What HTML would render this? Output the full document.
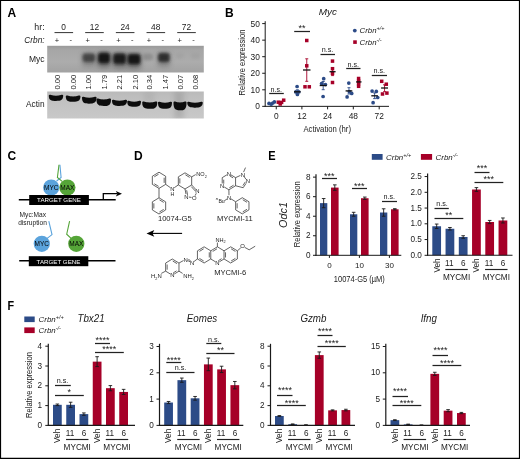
<!DOCTYPE html>
<html><head><meta charset="utf-8"><title>Figure</title>
<style>
html,body{margin:0;padding:0;background:#fff;}
body{width:520px;height:459px;overflow:hidden;font-family:"Liberation Sans",sans-serif;}
svg{display:block;will-change:transform;font-family:"Liberation Sans",sans-serif;}
</style></head><body>
<svg width="520" height="459" viewBox="0 0 520 459">
<rect x="0" y="0" width="520" height="459" fill="#fff"/>
<text transform="translate(7.60,17.40)" text-anchor="start" fill="#000" style="font-size:12px;font-weight:bold;" >A</text>
<text transform="translate(44.60,29.80)" text-anchor="end" fill="#1a1a1a" style="font-size:8.8px;" >hr:</text>
<text transform="translate(44.60,42.70)" text-anchor="end" fill="#1a1a1a" style="font-size:8.3px;font-style:italic;" >Crbn:</text>
<text transform="translate(63.70,29.60) scale(0.93,1)" text-anchor="middle" fill="#1a1a1a" style="font-size:9px;" >0</text>
<line x1="54.50" y1="32.60" x2="73.10" y2="32.60" stroke="#333" stroke-width="1" />
<text transform="translate(57.00,42.60)" text-anchor="middle" fill="#1a1a1a" style="font-size:7.5px;" >+</text>
<text transform="translate(70.80,42.20)" text-anchor="middle" fill="#1a1a1a" style="font-size:7.5px;" >-</text>
<text transform="translate(94.38,29.60) scale(0.93,1)" text-anchor="middle" fill="#1a1a1a" style="font-size:9px;" >12</text>
<line x1="85.18" y1="32.60" x2="103.78" y2="32.60" stroke="#333" stroke-width="1" />
<text transform="translate(87.68,42.60)" text-anchor="middle" fill="#1a1a1a" style="font-size:7.5px;" >+</text>
<text transform="translate(101.48,42.20)" text-anchor="middle" fill="#1a1a1a" style="font-size:7.5px;" >-</text>
<text transform="translate(125.06,29.60) scale(0.93,1)" text-anchor="middle" fill="#1a1a1a" style="font-size:9px;" >24</text>
<line x1="115.86" y1="32.60" x2="134.46" y2="32.60" stroke="#333" stroke-width="1" />
<text transform="translate(118.36,42.60)" text-anchor="middle" fill="#1a1a1a" style="font-size:7.5px;" >+</text>
<text transform="translate(132.16,42.20)" text-anchor="middle" fill="#1a1a1a" style="font-size:7.5px;" >-</text>
<text transform="translate(155.74,29.60) scale(0.93,1)" text-anchor="middle" fill="#1a1a1a" style="font-size:9px;" >48</text>
<line x1="146.54" y1="32.60" x2="165.14" y2="32.60" stroke="#333" stroke-width="1" />
<text transform="translate(149.04,42.60)" text-anchor="middle" fill="#1a1a1a" style="font-size:7.5px;" >+</text>
<text transform="translate(162.84,42.20)" text-anchor="middle" fill="#1a1a1a" style="font-size:7.5px;" >-</text>
<text transform="translate(186.42,29.60) scale(0.93,1)" text-anchor="middle" fill="#1a1a1a" style="font-size:9px;" >72</text>
<line x1="177.22" y1="32.60" x2="195.82" y2="32.60" stroke="#333" stroke-width="1" />
<text transform="translate(179.72,42.60)" text-anchor="middle" fill="#1a1a1a" style="font-size:7.5px;" >+</text>
<text transform="translate(193.52,42.20)" text-anchor="middle" fill="#1a1a1a" style="font-size:7.5px;" >-</text>
<text transform="translate(44.50,62.00)" text-anchor="end" fill="#1a1a1a" style="font-size:8.5px;" >Myc</text>
<text transform="translate(44.50,106.50)" text-anchor="end" fill="#1a1a1a" style="font-size:8.3px;" >Actin</text>
<defs><filter id="b1" x="-50%" y="-50%" width="200%" height="200%"><feGaussianBlur stdDeviation="1.8"/></filter><filter id="b2" x="-50%" y="-50%" width="200%" height="200%"><feGaussianBlur stdDeviation="0.7"/></filter><filter id="b3" x="-50%" y="-50%" width="200%" height="200%"><feGaussianBlur stdDeviation="2.5"/></filter><linearGradient id="gm" x1="0" y1="0" x2="0" y2="1"><stop offset="0" stop-color="#9a9a9a"/><stop offset="0.15" stop-color="#a6a6a6"/><stop offset="0.6" stop-color="#acacac"/><stop offset="1" stop-color="#a2a2a2"/></linearGradient><linearGradient id="ga" x1="0" y1="0" x2="0" y2="1"><stop offset="0" stop-color="#bababa"/><stop offset="0.5" stop-color="#c3c3c3"/><stop offset="1" stop-color="#c8c8c8"/></linearGradient><clipPath id="cm"><rect x="47.2" y="45.8" width="156.6" height="26.7"/></clipPath><clipPath id="ca"><rect x="47.2" y="91.5" width="156.6" height="27"/></clipPath></defs>
<rect x="47.20" y="45.80" width="156.60" height="26.70" fill="url(#gm)" />
<g clip-path="url(#cm)">
<rect x="82.1" y="52.9" width="13.5" height="13.5" rx="3" fill="#444" opacity="0.35" filter="url(#b3)"/>
<rect x="82.6" y="53.4" width="12.5" height="8.5" rx="3" fill="#3c3c3c" opacity="0.9" filter="url(#b1)"/>
<rect x="97.5" y="52.2" width="13.0" height="15.5" rx="3" fill="#444" opacity="0.6" filter="url(#b3)"/>
<rect x="98.0" y="52.8" width="12.0" height="10.5" rx="3" fill="#141414" opacity="1.0" filter="url(#b1)"/>
<rect x="112.6" y="53.0" width="14.0" height="15.5" rx="3" fill="#444" opacity="0.55" filter="url(#b3)"/>
<rect x="113.1" y="53.5" width="13.0" height="10.5" rx="3" fill="#1c1c1c" opacity="1.0" filter="url(#b1)"/>
<rect x="127.0" y="53.6" width="14.0" height="15.5" rx="3" fill="#444" opacity="0.55" filter="url(#b3)"/>
<rect x="127.5" y="54.1" width="13.0" height="10.5" rx="3" fill="#161616" opacity="1.0" filter="url(#b1)"/>
<rect x="142.9" y="53.5" width="10" height="7.0" rx="3" fill="#666" opacity="0.4" filter="url(#b1)"/>
<rect x="157.6" y="52.6" width="12.5" height="14.0" rx="3" fill="#444" opacity="0.4" filter="url(#b3)"/>
<rect x="158.1" y="53.1" width="11.5" height="9.0" rx="3" fill="#2a2a2a" opacity="0.95" filter="url(#b1)"/>
<rect x="175.8" y="53.5" width="8" height="5.0" rx="3" fill="#888" opacity="0.2" filter="url(#b1)"/>
<rect x="191.5" y="53.5" width="8" height="5.0" rx="3" fill="#888" opacity="0.2" filter="url(#b1)"/>
</g>
<text transform="translate(60.40,89.50) rotate(-90)" text-anchor="start" fill="#1a1a1a" style="font-size:7.6px;" >0.00</text>
<text transform="translate(76.10,89.50) rotate(-90)" text-anchor="start" fill="#1a1a1a" style="font-size:7.6px;" >0.00</text>
<text transform="translate(91.40,89.50) rotate(-90)" text-anchor="start" fill="#1a1a1a" style="font-size:7.6px;" >1.00</text>
<text transform="translate(107.10,89.50) rotate(-90)" text-anchor="start" fill="#1a1a1a" style="font-size:7.6px;" >1.79</text>
<text transform="translate(122.20,89.50) rotate(-90)" text-anchor="start" fill="#1a1a1a" style="font-size:7.6px;" >2.21</text>
<text transform="translate(138.10,89.50) rotate(-90)" text-anchor="start" fill="#1a1a1a" style="font-size:7.6px;" >2.10</text>
<text transform="translate(152.20,89.50) rotate(-90)" text-anchor="start" fill="#1a1a1a" style="font-size:7.6px;" >0.34</text>
<text transform="translate(167.50,89.50) rotate(-90)" text-anchor="start" fill="#1a1a1a" style="font-size:7.6px;" >1.47</text>
<text transform="translate(182.60,89.50) rotate(-90)" text-anchor="start" fill="#1a1a1a" style="font-size:7.6px;" >0.07</text>
<text transform="translate(198.30,89.50) rotate(-90)" text-anchor="start" fill="#1a1a1a" style="font-size:7.6px;" >0.08</text>
<rect x="47.20" y="91.50" width="156.60" height="27.00" fill="url(#ga)" />
<g clip-path="url(#ca)">
<rect x="174" y="91" width="10" height="28" fill="#888" opacity="0.35" filter="url(#b3)"/>
<rect x="144" y="91" width="10" height="12" fill="#999" opacity="0.25" filter="url(#b3)"/>
<g filter="url(#b2)" fill="#0a0a0a">
<path d="M48.8,95.6 Q48.8,94.6 50.3,94.8 Q56.0,96.6 61.7,94.8 Q63.2,94.6 63.2,95.6 C63.2,100.4 60.5,101.0 56.0,101.0 C51.5,101.0 48.8,100.4 48.8,95.8Z"/>
<path d="M65.8,96.3 Q65.8,95.3 67.3,95.5 Q73.1,97.3 78.9,95.5 Q80.4,95.3 80.4,96.3 C80.4,101.2 77.6,101.8 73.1,101.8 C68.6,101.8 65.8,101.2 65.8,96.5Z"/>
<path d="M82.0,97.6 Q82.0,96.6 83.5,96.8 Q89.2,98.6 95.0,96.8 Q96.5,96.6 96.5,97.6 C96.5,103.0 93.8,103.7 89.2,103.7 C84.8,103.7 82.0,103.0 82.0,97.8Z"/>
<path d="M96.5,99.4 Q96.5,98.4 98.0,98.6 Q103.8,100.4 109.5,98.6 Q111.0,98.4 111.0,99.4 C111.0,105.3 108.2,106.0 103.8,106.0 C99.2,106.0 96.5,105.3 96.5,99.6Z"/>
<path d="M112.0,100.6 Q112.0,99.6 113.5,99.8 Q119.5,101.6 125.5,99.8 Q127.0,99.6 127.0,100.6 C127.0,105.4 124.0,106.0 119.5,106.0 C115.0,106.0 112.0,105.4 112.0,100.8Z"/>
<path d="M127.3,101.6 Q127.3,100.6 128.8,100.8 Q134.2,102.6 139.5,100.8 Q141.0,100.6 141.0,101.6 C141.0,106.2 138.7,106.8 134.2,106.8 C129.7,106.8 127.3,106.2 127.3,101.8Z"/>
<path d="M142.2,102.4 Q142.2,101.4 143.7,101.6 Q149.8,103.4 155.8,101.6 Q157.3,101.4 157.3,102.4 C157.3,108.1 154.2,108.8 149.8,108.8 C145.2,108.8 142.2,108.1 142.2,102.6Z"/>
<path d="M158.0,102.6 Q158.0,101.6 159.5,101.8 Q165.0,103.6 170.5,101.8 Q172.0,101.6 172.0,102.6 C172.0,108.1 169.5,108.8 165.0,108.8 C160.5,108.8 158.0,108.1 158.0,102.8Z"/>
<path d="M173.5,102.4 Q173.5,101.4 175.0,101.6 Q180.0,103.4 185.0,101.6 Q186.5,101.4 186.5,102.4 C186.5,109.5 184.5,110.3 180.0,110.3 C175.5,110.3 173.5,109.5 173.5,102.6Z"/>
<path d="M187.3,102.6 Q187.3,101.6 188.8,101.8 Q195.0,103.6 201.2,101.8 Q202.7,101.6 202.7,102.6 C202.7,107.1 199.5,107.7 195.0,107.7 C190.5,107.7 187.3,107.1 187.3,102.8Z"/>
</g>
</g>
<text transform="translate(225.00,17.40)" text-anchor="start" fill="#000" style="font-size:12px;font-weight:bold;" >B</text>
<text transform="translate(327.80,14.90) scale(1.06,1)" text-anchor="middle" fill="#1a1a1a" style="font-size:9.4px;font-style:italic;" >Myc</text>
<line x1="265.20" y1="21.20" x2="265.20" y2="106.85" stroke="#1a1a1a" stroke-width="1" />
<line x1="264.70" y1="106.35" x2="389.00" y2="106.35" stroke="#1a1a1a" stroke-width="1" />
<line x1="262.20" y1="106.35" x2="265.20" y2="106.35" stroke="#1a1a1a" stroke-width="1" />
<text transform="translate(259.80,109.25)" text-anchor="end" fill="#1a1a1a" style="font-size:8.4px;" >0</text>
<line x1="262.20" y1="89.80" x2="265.20" y2="89.80" stroke="#1a1a1a" stroke-width="1" />
<text transform="translate(259.80,92.70)" text-anchor="end" fill="#1a1a1a" style="font-size:8.4px;" >10</text>
<line x1="262.20" y1="73.25" x2="265.20" y2="73.25" stroke="#1a1a1a" stroke-width="1" />
<text transform="translate(259.80,76.15)" text-anchor="end" fill="#1a1a1a" style="font-size:8.4px;" >20</text>
<line x1="262.20" y1="56.70" x2="265.20" y2="56.70" stroke="#1a1a1a" stroke-width="1" />
<text transform="translate(259.80,59.60)" text-anchor="end" fill="#1a1a1a" style="font-size:8.4px;" >30</text>
<line x1="262.20" y1="40.15" x2="265.20" y2="40.15" stroke="#1a1a1a" stroke-width="1" />
<text transform="translate(259.80,43.05)" text-anchor="end" fill="#1a1a1a" style="font-size:8.4px;" >40</text>
<line x1="262.20" y1="23.60" x2="265.20" y2="23.60" stroke="#1a1a1a" stroke-width="1" />
<text transform="translate(259.80,26.50)" text-anchor="end" fill="#1a1a1a" style="font-size:8.4px;" >50</text>
<line x1="276.25" y1="106.35" x2="276.25" y2="109.35" stroke="#1a1a1a" stroke-width="1" />
<text transform="translate(276.25,118.90)" text-anchor="middle" fill="#1a1a1a" style="font-size:8.4px;" >0</text>
<line x1="301.90" y1="106.35" x2="301.90" y2="109.35" stroke="#1a1a1a" stroke-width="1" />
<text transform="translate(301.90,118.90)" text-anchor="middle" fill="#1a1a1a" style="font-size:8.4px;" >12</text>
<line x1="327.60" y1="106.35" x2="327.60" y2="109.35" stroke="#1a1a1a" stroke-width="1" />
<text transform="translate(327.60,118.90)" text-anchor="middle" fill="#1a1a1a" style="font-size:8.4px;" >24</text>
<line x1="353.30" y1="106.35" x2="353.30" y2="109.35" stroke="#1a1a1a" stroke-width="1" />
<text transform="translate(353.30,118.90)" text-anchor="middle" fill="#1a1a1a" style="font-size:8.4px;" >48</text>
<line x1="379.20" y1="106.35" x2="379.20" y2="109.35" stroke="#1a1a1a" stroke-width="1" />
<text transform="translate(379.20,118.90)" text-anchor="middle" fill="#1a1a1a" style="font-size:8.4px;" >72</text>
<text transform="translate(244.80,62.50) rotate(-90) scale(0.84,1)" text-anchor="middle" fill="#1a1a1a" style="font-size:9.0px;" >Relative expression</text>
<text transform="translate(327.20,132.00) scale(0.84,1)" text-anchor="middle" fill="#1a1a1a" style="font-size:9.2px;" >Activation (hr)</text>
<circle cx="354.8" cy="30.6" r="1.9" fill="#2c4b87"/>
<text x="359.60" y="33.20" fill="#1a1a1a" style="font-size:7.8px;font-style:italic;">Crbn<tspan dy="-3.1" style="font-size:5.46px">+/+</tspan></text>
<rect x="353.20" y="40.30" width="3.60" height="3.60" fill="#a60028" />
<text x="359.60" y="44.80" fill="#1a1a1a" style="font-size:7.8px;font-style:italic;">Crbn<tspan dy="-3.1" style="font-size:5.46px">-/-</tspan></text>
<circle cx="269.0" cy="103.4" r="1.85" fill="#2c4b87"/>
<circle cx="271.2" cy="104.2" r="1.85" fill="#2c4b87"/>
<circle cx="272.8" cy="103.0" r="1.85" fill="#2c4b87"/>
<circle cx="274.4" cy="101.9" r="1.85" fill="#2c4b87"/>
<rect x="276.55" y="100.45" width="3.50" height="3.50" fill="#a60028" />
<rect x="278.45" y="102.25" width="3.50" height="3.50" fill="#a60028" />
<rect x="279.85" y="100.65" width="3.50" height="3.50" fill="#a60028" />
<rect x="281.95" y="98.45" width="3.50" height="3.50" fill="#a60028" />
<text transform="translate(276.25,91.65)" text-anchor="middle" fill="#1a1a1a" style="font-size:7.2px;" >n.s.</text>
<line x1="269.20" y1="93.50" x2="283.80" y2="93.50" stroke="#222" stroke-width="1.25" />
<circle cx="297.1" cy="86.5" r="1.85" fill="#2c4b87"/>
<circle cx="295.8" cy="91.9" r="1.85" fill="#2c4b87"/>
<circle cx="298.8" cy="91.9" r="1.85" fill="#2c4b87"/>
<circle cx="297.4" cy="94.5" r="1.85" fill="#2c4b87"/>
<line x1="297.35" y1="89.80" x2="297.35" y2="93.80" stroke="#2c4b87" stroke-width="0.9" />
<line x1="295.85" y1="89.80" x2="298.85" y2="89.80" stroke="#2c4b87" stroke-width="0.9" />
<line x1="295.85" y1="93.80" x2="298.85" y2="93.80" stroke="#2c4b87" stroke-width="0.9" />
<line x1="294.00" y1="91.80" x2="300.70" y2="91.80" stroke="#111" stroke-width="1.3" />
<rect x="305.00" y="38.75" width="3.50" height="3.50" fill="#a60028" />
<rect x="305.00" y="64.05" width="3.50" height="3.50" fill="#a60028" />
<rect x="303.25" y="85.05" width="3.50" height="3.50" fill="#a60028" />
<rect x="307.55" y="85.05" width="3.50" height="3.50" fill="#a60028" />
<line x1="306.75" y1="58.80" x2="306.75" y2="81.30" stroke="#a60028" stroke-width="0.9" />
<line x1="305.25" y1="58.80" x2="308.25" y2="58.80" stroke="#a60028" stroke-width="0.9" />
<line x1="305.25" y1="81.30" x2="308.25" y2="81.30" stroke="#a60028" stroke-width="0.9" />
<line x1="303.00" y1="70.00" x2="310.50" y2="70.00" stroke="#111" stroke-width="1.3" />
<text transform="translate(302.00,31.20)" text-anchor="middle" fill="#1a1a1a" style="font-size:9.0px;" >**</text>
<line x1="294.20" y1="31.50" x2="310.00" y2="31.50" stroke="#222" stroke-width="1.25" />
<circle cx="323.7" cy="78.7" r="1.85" fill="#2c4b87"/>
<circle cx="321.6" cy="83.6" r="1.85" fill="#2c4b87"/>
<circle cx="325.4" cy="84.6" r="1.85" fill="#2c4b87"/>
<circle cx="323.1" cy="96.5" r="1.85" fill="#2c4b87"/>
<line x1="323.20" y1="81.50" x2="323.20" y2="89.70" stroke="#2c4b87" stroke-width="0.9" />
<line x1="321.70" y1="81.50" x2="324.70" y2="81.50" stroke="#2c4b87" stroke-width="0.9" />
<line x1="321.70" y1="89.70" x2="324.70" y2="89.70" stroke="#2c4b87" stroke-width="0.9" />
<line x1="319.70" y1="85.50" x2="326.70" y2="85.50" stroke="#111" stroke-width="1.3" />
<rect x="330.75" y="59.35" width="3.50" height="3.50" fill="#a60028" />
<rect x="330.75" y="66.95" width="3.50" height="3.50" fill="#a60028" />
<rect x="330.75" y="71.65" width="3.50" height="3.50" fill="#a60028" />
<rect x="330.75" y="80.75" width="3.50" height="3.50" fill="#a60028" />
<line x1="332.55" y1="67.80" x2="332.55" y2="75.60" stroke="#a60028" stroke-width="0.9" />
<line x1="331.05" y1="67.80" x2="334.05" y2="67.80" stroke="#a60028" stroke-width="0.9" />
<line x1="331.05" y1="75.60" x2="334.05" y2="75.60" stroke="#a60028" stroke-width="0.9" />
<line x1="329.50" y1="71.70" x2="335.60" y2="71.70" stroke="#111" stroke-width="1.3" />
<text transform="translate(327.50,51.90)" text-anchor="middle" fill="#1a1a1a" style="font-size:7.2px;" >n.s.</text>
<line x1="320.50" y1="54.50" x2="335.00" y2="54.50" stroke="#222" stroke-width="1.25" />
<circle cx="348.8" cy="83.1" r="1.85" fill="#2c4b87"/>
<circle cx="349.3" cy="91.5" r="1.85" fill="#2c4b87"/>
<circle cx="351.7" cy="93.4" r="1.85" fill="#2c4b87"/>
<circle cx="347.1" cy="96.9" r="1.85" fill="#2c4b87"/>
<line x1="348.95" y1="87.70" x2="348.95" y2="94.00" stroke="#2c4b87" stroke-width="0.9" />
<line x1="347.45" y1="87.70" x2="350.45" y2="87.70" stroke="#2c4b87" stroke-width="0.9" />
<line x1="347.45" y1="94.00" x2="350.45" y2="94.00" stroke="#2c4b87" stroke-width="0.9" />
<line x1="345.60" y1="90.90" x2="352.30" y2="90.90" stroke="#111" stroke-width="1.3" />
<rect x="356.85" y="76.75" width="3.50" height="3.50" fill="#a60028" />
<rect x="356.85" y="79.55" width="3.50" height="3.50" fill="#a60028" />
<rect x="356.85" y="82.05" width="3.50" height="3.50" fill="#a60028" />
<rect x="356.85" y="84.55" width="3.50" height="3.50" fill="#a60028" />
<line x1="358.80" y1="80.20" x2="358.80" y2="83.60" stroke="#a60028" stroke-width="0.9" />
<line x1="357.30" y1="80.20" x2="360.30" y2="80.20" stroke="#a60028" stroke-width="0.9" />
<line x1="357.30" y1="83.60" x2="360.30" y2="83.60" stroke="#a60028" stroke-width="0.9" />
<line x1="356.10" y1="81.90" x2="361.50" y2="81.90" stroke="#111" stroke-width="1.3" />
<text transform="translate(353.25,66.65)" text-anchor="middle" fill="#1a1a1a" style="font-size:7.2px;" >n.s.</text>
<line x1="346.20" y1="68.50" x2="360.50" y2="68.50" stroke="#222" stroke-width="1.25" />
<circle cx="372.1" cy="91.1" r="1.85" fill="#2c4b87"/>
<circle cx="376.3" cy="91.4" r="1.85" fill="#2c4b87"/>
<circle cx="377.7" cy="97.5" r="1.85" fill="#2c4b87"/>
<circle cx="373.1" cy="102.7" r="1.85" fill="#2c4b87"/>
<line x1="374.60" y1="92.90" x2="374.60" y2="98.60" stroke="#2c4b87" stroke-width="0.9" />
<line x1="373.10" y1="92.90" x2="376.10" y2="92.90" stroke="#2c4b87" stroke-width="0.9" />
<line x1="373.10" y1="98.60" x2="376.10" y2="98.60" stroke="#2c4b87" stroke-width="0.9" />
<line x1="371.30" y1="95.80" x2="377.90" y2="95.80" stroke="#111" stroke-width="1.3" />
<rect x="379.95" y="79.55" width="3.50" height="3.50" fill="#a60028" />
<rect x="384.55" y="82.45" width="3.50" height="3.50" fill="#a60028" />
<rect x="385.15" y="91.35" width="3.50" height="3.50" fill="#a60028" />
<rect x="380.75" y="92.25" width="3.50" height="3.50" fill="#a60028" />
<line x1="384.55" y1="84.80" x2="384.55" y2="91.70" stroke="#a60028" stroke-width="0.9" />
<line x1="383.05" y1="84.80" x2="386.05" y2="84.80" stroke="#a60028" stroke-width="0.9" />
<line x1="383.05" y1="91.70" x2="386.05" y2="91.70" stroke="#a60028" stroke-width="0.9" />
<line x1="381.10" y1="88.00" x2="388.00" y2="88.00" stroke="#111" stroke-width="1.3" />
<text transform="translate(379.25,72.75)" text-anchor="middle" fill="#1a1a1a" style="font-size:7.2px;" >n.s.</text>
<line x1="371.80" y1="75.50" x2="387.00" y2="75.50" stroke="#222" stroke-width="1.25" />
<text transform="translate(7.50,159.90)" text-anchor="start" fill="#000" style="font-size:12px;font-weight:bold;" >C</text>
<line x1="18.80" y1="199.80" x2="115.70" y2="199.80" stroke="#000" stroke-width="1.5" />
<polyline points="103.3,200 103.3,193.7 117.5,193.7" fill="none" stroke="#000" stroke-width="1.3"/>
<path d="M122,193.7 L115.8,191.0 L117.4,193.7 L115.8,196.4Z" fill="#000"/>
<circle cx="51.2" cy="187.6" r="8.1" fill="#5ba3dc"/>
<circle cx="67.4" cy="187.6" r="8.1" fill="#55a538"/>
<rect x="29.20" y="195.00" width="59.70" height="10.00" fill="#000" />
<polyline points="59.9,164.8 61.1,177.5 56.6,181" fill="none" stroke="#5ba3dc" stroke-width="1.1"/>
<polyline points="59,164.8 57.4,177.5 62.2,181.4" fill="none" stroke="#55a538" stroke-width="1.1"/>
<text transform="translate(51.20,189.90)" text-anchor="middle" fill="#000" style="font-size:6.5px;" >MYC</text>
<text transform="translate(67.40,189.90)" text-anchor="middle" fill="#000" style="font-size:6.5px;" >MAX</text>
<text transform="translate(59.00,202.30)" text-anchor="middle" fill="#fff" style="font-size:6.2px;" >TARGET GENE</text>
<text transform="translate(32.80,217.00)" text-anchor="middle" fill="#1a1a1a" style="font-size:6.6px;" >Myc:Max</text>
<text transform="translate(32.50,224.60)" text-anchor="middle" fill="#1a1a1a" style="font-size:6.6px;" >disruption</text>
<polyline points="48.8,221.2 52,234.6 46.8,238.6" fill="none" stroke="#5ba3dc" stroke-width="1.1"/>
<polyline points="69.6,221.2 66.7,234.2 71.9,239.2" fill="none" stroke="#55a538" stroke-width="1.1"/>
<circle cx="41.8" cy="243.8" r="8.1" fill="#5ba3dc"/>
<circle cx="76.3" cy="243.8" r="8.1" fill="#55a538"/>
<text transform="translate(41.80,246.20)" text-anchor="middle" fill="#000" style="font-size:6.5px;" >MYC</text>
<text transform="translate(76.40,246.20)" text-anchor="middle" fill="#000" style="font-size:6.5px;" >MAX</text>
<line x1="19.20" y1="260.70" x2="115.50" y2="260.70" stroke="#000" stroke-width="1.5" />
<rect x="28.80" y="256.20" width="59.50" height="10.00" fill="#000" />
<text transform="translate(58.50,263.80)" text-anchor="middle" fill="#fff" style="font-size:6.2px;" >TARGET GENE</text>
<text transform="translate(134.00,159.90)" text-anchor="start" fill="#000" style="font-size:12px;font-weight:bold;" >D</text>
<path d="M159.00,172.20 L165.67,176.25 L165.67,184.35 L159.00,188.40 L152.33,184.35 L152.33,176.25Z" fill="none" stroke="#222" stroke-width="0.7" stroke-linejoin="round"/>
<line x1="164.17" y1="177.71" x2="164.17" y2="182.89" stroke="#222" stroke-width="0.7" />
<line x1="158.58" y1="186.39" x2="154.31" y2="183.79" stroke="#222" stroke-width="0.7" />
<line x1="154.31" y1="176.81" x2="158.58" y2="174.21" stroke="#222" stroke-width="0.7" />
<path d="M159.00,197.80 L165.67,201.85 L165.67,209.95 L159.00,214.00 L152.33,209.95 L152.33,201.85Z" fill="none" stroke="#222" stroke-width="0.7" stroke-linejoin="round"/>
<line x1="159.42" y1="199.81" x2="163.69" y2="202.41" stroke="#222" stroke-width="0.7" />
<line x1="163.69" y1="209.39" x2="159.42" y2="211.99" stroke="#222" stroke-width="0.7" />
<line x1="153.83" y1="208.49" x2="153.83" y2="203.31" stroke="#222" stroke-width="0.7" />
<line x1="159.00" y1="188.40" x2="159.00" y2="197.80" stroke="#222" stroke-width="0.7" />
<line x1="165.67" y1="184.35" x2="170.34" y2="187.62" stroke="#222" stroke-width="0.7" />
<text transform="translate(172.30,191.00)" text-anchor="middle" fill="#222" style="font-size:5.9px;" >N</text>
<text transform="translate(172.30,195.70)" text-anchor="middle" fill="#222" style="font-size:5.2px;" >H</text>
<line x1="174.29" y1="187.66" x2="178.33" y2="184.95" stroke="#222" stroke-width="0.7" />
<path d="M185.00,172.80 L191.67,176.85 L191.67,184.95 L185.00,189.00 L178.33,184.95 L178.33,176.85Z" fill="none" stroke="#222" stroke-width="0.7" stroke-linejoin="round"/>
<line x1="179.83" y1="183.49" x2="179.83" y2="178.31" stroke="#222" stroke-width="0.7" />
<line x1="185.42" y1="174.81" x2="189.69" y2="177.41" stroke="#222" stroke-width="0.7" />
<line x1="191.67" y1="176.85" x2="195.68" y2="174.59" stroke="#222" stroke-width="0.7" />
<text x="196.3" y="176.2" fill="#222" style="font-size:5.6px">NO<tspan dy="1.6" style="font-size:3.8px">2</tspan></text>
<line x1="191.67" y1="184.95" x2="195.75" y2="189.40" stroke="#222" stroke-width="0.7" />
<line x1="191.31" y1="186.63" x2="195.59" y2="191.31" stroke="#222" stroke-width="0.7" />
<line x1="196.27" y1="193.27" x2="195.13" y2="195.63" stroke="#222" stroke-width="0.7" />
<line x1="191.53" y1="197.43" x2="188.88" y2="197.04" stroke="#222" stroke-width="0.7" />
<line x1="186.00" y1="194.15" x2="185.00" y2="189.00" stroke="#222" stroke-width="0.7" />
<line x1="187.57" y1="194.89" x2="186.67" y2="190.27" stroke="#222" stroke-width="0.7" />
<text transform="translate(197.40,193.10)" text-anchor="middle" fill="#222" style="font-size:5.9px;" >N</text>
<text transform="translate(194.20,199.90)" text-anchor="middle" fill="#222" style="font-size:5.9px;" >O</text>
<text transform="translate(186.30,198.80)" text-anchor="middle" fill="#222" style="font-size:5.9px;" >N</text>
<text transform="translate(174.80,221.30)" text-anchor="middle" fill="#1a1a1a" style="font-size:7.6px;" >10074-G5</text>
<line x1="230.87" y1="174.80" x2="235.57" y2="177.65" stroke="#222" stroke-width="0.7" />
<line x1="235.57" y1="177.65" x2="235.57" y2="185.75" stroke="#222" stroke-width="0.7" />
<line x1="235.57" y1="185.75" x2="228.90" y2="189.80" stroke="#222" stroke-width="0.7" />
<line x1="228.90" y1="189.80" x2="224.20" y2="186.94" stroke="#222" stroke-width="0.7" />
<line x1="222.23" y1="183.45" x2="222.23" y2="177.65" stroke="#222" stroke-width="0.7" />
<line x1="222.23" y1="177.65" x2="226.93" y2="174.80" stroke="#222" stroke-width="0.7" />
<line x1="229.79" y1="175.90" x2="233.12" y2="177.92" stroke="#222" stroke-width="0.7" />
<line x1="233.59" y1="185.19" x2="229.32" y2="187.79" stroke="#222" stroke-width="0.7" />
<line x1="223.73" y1="183.72" x2="223.73" y2="179.68" stroke="#222" stroke-width="0.7" />
<text transform="translate(228.90,175.90)" text-anchor="middle" fill="#222" style="font-size:5.9px;" >N</text>
<text transform="translate(222.00,187.70)" text-anchor="middle" fill="#222" style="font-size:5.9px;" >N</text>
<line x1="235.57" y1="177.65" x2="240.42" y2="175.41" stroke="#222" stroke-width="0.7" />
<line x1="243.97" y1="176.37" x2="246.03" y2="179.33" stroke="#222" stroke-width="0.7" />
<line x1="246.08" y1="183.31" x2="243.20" y2="187.70" stroke="#222" stroke-width="0.7" />
<line x1="243.20" y1="187.70" x2="235.57" y2="185.75" stroke="#222" stroke-width="0.7" />
<line x1="245.39" y1="181.81" x2="242.87" y2="185.65" stroke="#222" stroke-width="0.7" />
<text transform="translate(242.80,176.50)" text-anchor="middle" fill="#222" style="font-size:5.9px;" >N</text>
<text transform="translate(247.80,183.30)" text-anchor="middle" fill="#222" style="font-size:5.9px;" >N</text>
<line x1="243.58" y1="172.10" x2="245.50" y2="167.60" stroke="#222" stroke-width="0.7" />
<line x1="228.90" y1="189.80" x2="228.97" y2="195.20" stroke="#222" stroke-width="0.7" />
<text transform="translate(229.00,199.70)" text-anchor="middle" fill="#222" style="font-size:5.9px;" >N</text>
<line x1="227.11" y1="198.90" x2="224.50" y2="200.70" stroke="#222" stroke-width="0.7" />
<text x="218.4" y="203.4" fill="#222" style="font-size:5.2px">Bu</text>
<text x="215.8" y="200.2" fill="#222" style="font-size:4.2px;font-style:italic">n</text>
<path d="M242.30,197.70 L248.97,201.75 L248.97,209.85 L242.30,213.90 L235.63,209.85 L235.63,201.75Z" fill="none" stroke="#222" stroke-width="0.7" stroke-linejoin="round"/>
<line x1="242.72" y1="199.71" x2="246.99" y2="202.31" stroke="#222" stroke-width="0.7" />
<line x1="246.99" y1="209.29" x2="242.72" y2="211.89" stroke="#222" stroke-width="0.7" />
<line x1="237.13" y1="208.39" x2="237.13" y2="203.21" stroke="#222" stroke-width="0.7" />
<line x1="230.95" y1="198.82" x2="235.63" y2="201.75" stroke="#222" stroke-width="0.7" />
<text transform="translate(234.80,221.30)" text-anchor="middle" fill="#1a1a1a" style="font-size:7.6px;" >MYCMI-11</text>
<line x1="182.10" y1="233.40" x2="152.00" y2="233.40" stroke="#000" stroke-width="1.1" />
<path d="M146.5,233.4 L154.3,230.1 L152.5,233.4 L154.3,236.7Z" fill="#000"/>
<path d="M204.10,246.80 L210.77,250.85 L210.77,258.95 L204.10,263.00 L197.43,258.95 L197.43,250.85Z" fill="none" stroke="#222" stroke-width="0.7" stroke-linejoin="round"/>
<line x1="209.27" y1="252.31" x2="209.27" y2="257.49" stroke="#222" stroke-width="0.7" />
<line x1="203.68" y1="260.99" x2="199.41" y2="258.39" stroke="#222" stroke-width="0.7" />
<line x1="199.41" y1="251.41" x2="203.68" y2="248.81" stroke="#222" stroke-width="0.7" />
<line x1="210.73" y1="250.85" x2="217.40" y2="246.80" stroke="#222" stroke-width="0.7" />
<line x1="217.40" y1="246.80" x2="224.07" y2="250.85" stroke="#222" stroke-width="0.7" />
<line x1="224.07" y1="258.95" x2="219.37" y2="261.80" stroke="#222" stroke-width="0.7" />
<line x1="215.43" y1="261.80" x2="210.73" y2="258.95" stroke="#222" stroke-width="0.7" />
<line x1="212.71" y1="251.41" x2="216.98" y2="248.81" stroke="#222" stroke-width="0.7" />
<line x1="221.62" y1="258.68" x2="218.29" y2="260.70" stroke="#222" stroke-width="0.7" />
<path d="M230.70,246.80 L237.37,250.85 L237.37,258.95 L230.70,263.00 L224.03,258.95 L224.03,250.85Z" fill="none" stroke="#222" stroke-width="0.7" stroke-linejoin="round"/>
<line x1="231.12" y1="248.81" x2="235.39" y2="251.41" stroke="#222" stroke-width="0.7" />
<line x1="235.39" y1="258.39" x2="231.12" y2="260.99" stroke="#222" stroke-width="0.7" />
<line x1="225.53" y1="257.49" x2="225.53" y2="252.31" stroke="#222" stroke-width="0.7" />
<text transform="translate(217.40,265.20)" text-anchor="middle" fill="#222" style="font-size:5.9px;" >N</text>
<line x1="217.40" y1="246.80" x2="217.40" y2="242.60" stroke="#222" stroke-width="0.7" />
<text x="215.40" y="241.7" fill="#222" style="font-size:5.6px">NH<tspan dy="1.4" style="font-size:3.8px">2</tspan></text>
<line x1="237.37" y1="250.85" x2="240.81" y2="247.79" stroke="#222" stroke-width="0.7" />
<text transform="translate(242.60,248.20)" text-anchor="middle" fill="#222" style="font-size:5.9px;" >O</text>
<line x1="244.71" y1="247.35" x2="249.20" y2="249.80" stroke="#222" stroke-width="0.7" />
<line x1="249.20" y1="249.80" x2="255.20" y2="246.20" stroke="#222" stroke-width="0.7" />
<line x1="197.43" y1="258.95" x2="194.04" y2="261.51" stroke="#222" stroke-width="0.7" />
<line x1="190.16" y1="261.84" x2="187.54" y2="260.46" stroke="#222" stroke-width="0.7" />
<line x1="190.50" y1="260.54" x2="188.41" y2="259.45" stroke="#222" stroke-width="0.7" />
<text transform="translate(192.20,265.00)" text-anchor="middle" fill="#222" style="font-size:5.9px;" >N</text>
<text transform="translate(185.50,261.50)" text-anchor="middle" fill="#222" style="font-size:5.9px;" >N</text>
<line x1="183.49" y1="260.52" x2="178.97" y2="263.05" stroke="#222" stroke-width="0.7" />
<line x1="172.30" y1="259.00" x2="178.97" y2="263.05" stroke="#222" stroke-width="0.7" />
<line x1="178.97" y1="263.05" x2="178.97" y2="271.15" stroke="#222" stroke-width="0.7" />
<line x1="178.97" y1="271.15" x2="174.27" y2="274.00" stroke="#222" stroke-width="0.7" />
<line x1="170.33" y1="274.00" x2="165.63" y2="271.15" stroke="#222" stroke-width="0.7" />
<line x1="165.63" y1="271.15" x2="165.63" y2="263.05" stroke="#222" stroke-width="0.7" />
<line x1="165.63" y1="263.05" x2="172.30" y2="259.00" stroke="#222" stroke-width="0.7" />
<line x1="172.72" y1="261.01" x2="176.99" y2="263.61" stroke="#222" stroke-width="0.7" />
<line x1="176.52" y1="270.88" x2="173.19" y2="272.90" stroke="#222" stroke-width="0.7" />
<line x1="167.13" y1="269.69" x2="167.13" y2="264.51" stroke="#222" stroke-width="0.7" />
<text transform="translate(172.30,277.30)" text-anchor="middle" fill="#222" style="font-size:5.9px;" >N</text>
<line x1="165.63" y1="271.15" x2="161.30" y2="273.40" stroke="#222" stroke-width="0.7" />
<text x="151.0" y="278.3" fill="#222" style="font-size:5.9px">H<tspan dy="1.4" style="font-size:3.8px">2</tspan><tspan dy="-1.4">N</tspan></text>
<line x1="178.97" y1="271.15" x2="182.60" y2="273.40" stroke="#222" stroke-width="0.7" />
<text x="183.3" y="278.3" fill="#222" style="font-size:5.9px">NH<tspan dy="1.4" style="font-size:3.8px">2</tspan></text>
<text transform="translate(230.20,274.90)" text-anchor="middle" fill="#1a1a1a" style="font-size:7.6px;" >MYCMI-6</text>
<text transform="translate(268.20,159.90) scale(0.92,1)" text-anchor="start" fill="#000" style="font-size:12px;font-weight:bold;" >E</text>
<rect x="371.80" y="154.00" width="10.80" height="5.80" fill="#2c4b87" />
<text x="386.10" y="159.60" fill="#1a1a1a" style="font-size:7.9px;font-style:italic;">Crbn<tspan dy="-3.1" style="font-size:5.53px">+/+</tspan></text>
<rect x="420.90" y="154.00" width="11.20" height="5.80" fill="#a60028" />
<text x="435.60" y="159.60" fill="#1a1a1a" style="font-size:7.9px;font-style:italic;">Crbn<tspan dy="-3.1" style="font-size:5.53px">-/-</tspan></text>
<rect x="320.00" y="203.13" width="7.30" height="52.17" fill="#2c4b87" />
<line x1="323.65" y1="198.54" x2="323.65" y2="207.72" stroke="#1a1a1a" stroke-width="0.9" />
<line x1="321.85" y1="198.54" x2="325.45" y2="198.54" stroke="#1a1a1a" stroke-width="0.9" />
<line x1="321.85" y1="207.72" x2="325.45" y2="207.72" stroke="#1a1a1a" stroke-width="0.9" />
<rect x="331.00" y="187.59" width="7.60" height="67.71" fill="#a60028" />
<line x1="334.80" y1="184.86" x2="334.80" y2="190.33" stroke="#1a1a1a" stroke-width="0.9" />
<line x1="333.00" y1="184.86" x2="336.60" y2="184.86" stroke="#1a1a1a" stroke-width="0.9" />
<line x1="333.00" y1="190.33" x2="336.60" y2="190.33" stroke="#1a1a1a" stroke-width="0.9" />
<line x1="329.40" y1="255.30" x2="329.40" y2="257.90" stroke="#1a1a1a" stroke-width="1" />
<text transform="translate(329.40,268.40)" text-anchor="middle" fill="#1a1a1a" style="font-size:8px;" >0</text>
<rect x="350.00" y="214.27" width="7.30" height="41.03" fill="#2c4b87" />
<line x1="353.65" y1="212.31" x2="353.65" y2="216.22" stroke="#1a1a1a" stroke-width="0.9" />
<line x1="351.85" y1="212.31" x2="355.45" y2="212.31" stroke="#1a1a1a" stroke-width="0.9" />
<line x1="351.85" y1="216.22" x2="355.45" y2="216.22" stroke="#1a1a1a" stroke-width="0.9" />
<rect x="361.00" y="198.24" width="7.60" height="57.06" fill="#a60028" />
<line x1="364.80" y1="197.07" x2="364.80" y2="199.42" stroke="#1a1a1a" stroke-width="0.9" />
<line x1="363.00" y1="197.07" x2="366.60" y2="197.07" stroke="#1a1a1a" stroke-width="0.9" />
<line x1="363.00" y1="199.42" x2="366.60" y2="199.42" stroke="#1a1a1a" stroke-width="0.9" />
<line x1="359.40" y1="255.30" x2="359.40" y2="257.90" stroke="#1a1a1a" stroke-width="1" />
<text transform="translate(359.40,268.40)" text-anchor="middle" fill="#1a1a1a" style="font-size:8px;" >10</text>
<rect x="380.00" y="212.51" width="7.30" height="42.79" fill="#2c4b87" />
<line x1="383.65" y1="208.79" x2="383.65" y2="216.22" stroke="#1a1a1a" stroke-width="0.9" />
<line x1="381.85" y1="208.79" x2="385.45" y2="208.79" stroke="#1a1a1a" stroke-width="0.9" />
<line x1="381.85" y1="216.22" x2="385.45" y2="216.22" stroke="#1a1a1a" stroke-width="0.9" />
<rect x="391.00" y="209.28" width="7.60" height="46.02" fill="#a60028" />
<line x1="394.80" y1="208.70" x2="394.80" y2="209.87" stroke="#1a1a1a" stroke-width="0.9" />
<line x1="393.00" y1="208.70" x2="396.60" y2="208.70" stroke="#1a1a1a" stroke-width="0.9" />
<line x1="393.00" y1="209.87" x2="396.60" y2="209.87" stroke="#1a1a1a" stroke-width="0.9" />
<line x1="389.40" y1="255.30" x2="389.40" y2="257.90" stroke="#1a1a1a" stroke-width="1" />
<text transform="translate(389.40,268.40)" text-anchor="middle" fill="#1a1a1a" style="font-size:8px;" >30</text>
<line x1="316.00" y1="174.30" x2="316.00" y2="255.80" stroke="#1a1a1a" stroke-width="1.2" />
<line x1="315.50" y1="255.30" x2="401.30" y2="255.30" stroke="#1a1a1a" stroke-width="1" />
<line x1="313.00" y1="255.30" x2="316.00" y2="255.30" stroke="#1a1a1a" stroke-width="1" />
<text transform="translate(310.60,257.80)" text-anchor="end" fill="#1a1a1a" style="font-size:8.2px;" >0</text>
<line x1="313.00" y1="235.76" x2="316.00" y2="235.76" stroke="#1a1a1a" stroke-width="1" />
<text transform="translate(310.60,238.26)" text-anchor="end" fill="#1a1a1a" style="font-size:8.2px;" >2</text>
<line x1="313.00" y1="216.22" x2="316.00" y2="216.22" stroke="#1a1a1a" stroke-width="1" />
<text transform="translate(310.60,218.72)" text-anchor="end" fill="#1a1a1a" style="font-size:8.2px;" >4</text>
<line x1="313.00" y1="196.68" x2="316.00" y2="196.68" stroke="#1a1a1a" stroke-width="1" />
<text transform="translate(310.60,199.18)" text-anchor="end" fill="#1a1a1a" style="font-size:8.2px;" >6</text>
<line x1="313.00" y1="177.14" x2="316.00" y2="177.14" stroke="#1a1a1a" stroke-width="1" />
<text transform="translate(310.60,179.64)" text-anchor="end" fill="#1a1a1a" style="font-size:8.2px;" >8</text>
<text transform="translate(299.60,214.30) rotate(-90) scale(0.84,1)" text-anchor="middle" fill="#1a1a1a" style="font-size:9.0px;" >Relative expression</text>
<text transform="translate(286.80,215.00) rotate(-90)" text-anchor="middle" fill="#1a1a1a" style="font-size:10.8px;font-style:italic;" >Odc1</text>
<text transform="translate(359.30,281.60) scale(0.815,1)" text-anchor="middle" fill="#1a1a1a" style="font-size:9.2px;" >10074-G5 (µM)</text>
<text transform="translate(329.30,178.60)" text-anchor="middle" fill="#1a1a1a" style="font-size:9.0px;" >***</text>
<line x1="322.00" y1="178.50" x2="337.00" y2="178.50" stroke="#222" stroke-width="1.25" />
<text transform="translate(359.30,188.70)" text-anchor="middle" fill="#1a1a1a" style="font-size:9.0px;" >***</text>
<line x1="352.00" y1="188.50" x2="367.00" y2="188.50" stroke="#222" stroke-width="1.25" />
<text transform="translate(389.30,199.45)" text-anchor="middle" fill="#1a1a1a" style="font-size:7.2px;" >n.s.</text>
<line x1="382.00" y1="201.50" x2="397.00" y2="201.50" stroke="#222" stroke-width="1.25" />
<rect x="432.30" y="226.26" width="8.75" height="29.04" fill="#2c4b87" />
<line x1="436.68" y1="224.05" x2="436.68" y2="228.46" stroke="#1a1a1a" stroke-width="0.9" />
<line x1="434.88" y1="224.05" x2="438.48" y2="224.05" stroke="#1a1a1a" stroke-width="0.9" />
<line x1="434.88" y1="228.46" x2="438.48" y2="228.46" stroke="#1a1a1a" stroke-width="0.9" />
<rect x="445.55" y="228.75" width="8.75" height="26.55" fill="#2c4b87" />
<line x1="449.93" y1="227.49" x2="449.93" y2="230.01" stroke="#1a1a1a" stroke-width="0.9" />
<line x1="448.12" y1="227.49" x2="451.73" y2="227.49" stroke="#1a1a1a" stroke-width="0.9" />
<line x1="448.12" y1="230.01" x2="451.73" y2="230.01" stroke="#1a1a1a" stroke-width="0.9" />
<rect x="458.80" y="237.00" width="8.75" height="18.30" fill="#2c4b87" />
<line x1="463.18" y1="235.74" x2="463.18" y2="238.26" stroke="#1a1a1a" stroke-width="0.9" />
<line x1="461.38" y1="235.74" x2="464.98" y2="235.74" stroke="#1a1a1a" stroke-width="0.9" />
<line x1="461.38" y1="238.26" x2="464.98" y2="238.26" stroke="#1a1a1a" stroke-width="0.9" />
<rect x="472.05" y="189.50" width="8.75" height="65.80" fill="#a60028" />
<line x1="476.43" y1="187.61" x2="476.43" y2="191.39" stroke="#1a1a1a" stroke-width="0.9" />
<line x1="474.62" y1="187.61" x2="478.23" y2="187.61" stroke="#1a1a1a" stroke-width="0.9" />
<line x1="474.62" y1="191.39" x2="478.23" y2="191.39" stroke="#1a1a1a" stroke-width="0.9" />
<rect x="485.30" y="222.00" width="8.75" height="33.30" fill="#a60028" />
<line x1="489.68" y1="220.43" x2="489.68" y2="223.58" stroke="#1a1a1a" stroke-width="0.9" />
<line x1="487.88" y1="220.43" x2="491.48" y2="220.43" stroke="#1a1a1a" stroke-width="0.9" />
<line x1="487.88" y1="223.58" x2="491.48" y2="223.58" stroke="#1a1a1a" stroke-width="0.9" />
<rect x="498.55" y="220.49" width="8.75" height="34.81" fill="#a60028" />
<line x1="502.93" y1="217.97" x2="502.93" y2="223.01" stroke="#1a1a1a" stroke-width="0.9" />
<line x1="501.12" y1="217.97" x2="504.73" y2="217.97" stroke="#1a1a1a" stroke-width="0.9" />
<line x1="501.12" y1="223.01" x2="504.73" y2="223.01" stroke="#1a1a1a" stroke-width="0.9" />
<line x1="427.60" y1="173.50" x2="427.60" y2="255.80" stroke="#1a1a1a" stroke-width="1.2" />
<line x1="427.10" y1="255.30" x2="512.50" y2="255.30" stroke="#1a1a1a" stroke-width="1.1" />
<line x1="424.60" y1="255.30" x2="427.60" y2="255.30" stroke="#1a1a1a" stroke-width="1" />
<text transform="translate(421.80,257.80)" text-anchor="end" fill="#1a1a1a" style="font-size:8.2px;" >0.0</text>
<line x1="424.60" y1="239.55" x2="427.60" y2="239.55" stroke="#1a1a1a" stroke-width="1" />
<text transform="translate(421.80,242.05)" text-anchor="end" fill="#1a1a1a" style="font-size:8.2px;" >0.5</text>
<line x1="424.60" y1="223.80" x2="427.60" y2="223.80" stroke="#1a1a1a" stroke-width="1" />
<text transform="translate(421.80,226.30)" text-anchor="end" fill="#1a1a1a" style="font-size:8.2px;" >1.0</text>
<line x1="424.60" y1="208.05" x2="427.60" y2="208.05" stroke="#1a1a1a" stroke-width="1" />
<text transform="translate(421.80,210.55)" text-anchor="end" fill="#1a1a1a" style="font-size:8.2px;" >1.5</text>
<line x1="424.60" y1="192.30" x2="427.60" y2="192.30" stroke="#1a1a1a" stroke-width="1" />
<text transform="translate(421.80,194.80)" text-anchor="end" fill="#1a1a1a" style="font-size:8.2px;" >2.0</text>
<line x1="424.60" y1="176.55" x2="427.60" y2="176.55" stroke="#1a1a1a" stroke-width="1" />
<text transform="translate(421.80,179.05)" text-anchor="end" fill="#1a1a1a" style="font-size:8.2px;" >2.5</text>
<text transform="translate(439.57,258.40) rotate(-90)" text-anchor="end" fill="#1a1a1a" style="font-size:8.2px;" >Veh</text>
<text transform="translate(449.32,265.60)" text-anchor="middle" fill="#1a1a1a" style="font-size:8.2px;" >11</text>
<text transform="translate(463.38,265.60)" text-anchor="middle" fill="#1a1a1a" style="font-size:8.2px;" >6</text>
<line x1="445.32" y1="269.50" x2="467.78" y2="269.50" stroke="#222" stroke-width="1.15" />
<text transform="translate(456.55,279.50)" text-anchor="middle" fill="#1a1a1a" style="font-size:8.2px;" >MYCMI</text>
<text transform="translate(479.32,258.40) rotate(-90)" text-anchor="end" fill="#1a1a1a" style="font-size:8.2px;" >Veh</text>
<text transform="translate(489.07,265.60)" text-anchor="middle" fill="#1a1a1a" style="font-size:8.2px;" >11</text>
<text transform="translate(503.12,265.60)" text-anchor="middle" fill="#1a1a1a" style="font-size:8.2px;" >6</text>
<line x1="485.07" y1="269.50" x2="507.53" y2="269.50" stroke="#222" stroke-width="1.15" />
<text transform="translate(496.30,279.50)" text-anchor="middle" fill="#1a1a1a" style="font-size:8.2px;" >MYCMI</text>
<text transform="translate(442.00,206.30)" text-anchor="middle" fill="#1a1a1a" style="font-size:7.2px;" >n.s.</text>
<line x1="434.50" y1="208.50" x2="448.80" y2="208.50" stroke="#222" stroke-width="1.25" />
<text transform="translate(448.80,218.40)" text-anchor="middle" fill="#1a1a1a" style="font-size:9.0px;" >**</text>
<line x1="434.50" y1="218.50" x2="463.30" y2="218.50" stroke="#222" stroke-width="1.25" />
<text transform="translate(482.00,170.70)" text-anchor="middle" fill="#1a1a1a" style="font-size:9.0px;" >***</text>
<line x1="474.50" y1="172.50" x2="489.50" y2="172.50" stroke="#222" stroke-width="1.25" />
<text transform="translate(488.80,182.00)" text-anchor="middle" fill="#1a1a1a" style="font-size:9.0px;" >***</text>
<line x1="474.50" y1="182.50" x2="503.30" y2="182.50" stroke="#222" stroke-width="1.25" />
<text transform="translate(7.40,309.50) scale(0.9,1)" text-anchor="start" fill="#000" style="font-size:12px;font-weight:bold;" >F</text>
<rect x="24.30" y="316.50" width="10.40" height="5.60" fill="#2c4b87" />
<text x="38.60" y="321.90" fill="#1a1a1a" style="font-size:7.9px;font-style:italic;">Crbn<tspan dy="-3.1" style="font-size:5.53px">+/+</tspan></text>
<rect x="24.30" y="327.40" width="10.40" height="5.70" fill="#a60028" />
<text x="38.60" y="332.70" fill="#1a1a1a" style="font-size:7.9px;font-style:italic;">Crbn<tspan dy="-3.1" style="font-size:5.53px">-/-</tspan></text>
<text transform="translate(32.10,385.00) rotate(-90) scale(0.84,1)" text-anchor="middle" fill="#1a1a1a" style="font-size:9.0px;" >Relative expression</text>
<text transform="translate(91.00,322.30) scale(0.94,1)" text-anchor="middle" fill="#1a1a1a" style="font-size:10.4px;font-style:italic;" >Tbx21</text>
<rect x="53.00" y="404.81" width="8.75" height="20.59" fill="#2c4b87" />
<line x1="57.38" y1="404.02" x2="57.38" y2="405.60" stroke="#1a1a1a" stroke-width="0.9" />
<line x1="55.58" y1="404.02" x2="59.17" y2="404.02" stroke="#1a1a1a" stroke-width="0.9" />
<line x1="55.58" y1="405.60" x2="59.17" y2="405.60" stroke="#1a1a1a" stroke-width="0.9" />
<rect x="66.25" y="404.81" width="8.75" height="20.59" fill="#2c4b87" />
<line x1="70.62" y1="402.23" x2="70.62" y2="407.38" stroke="#1a1a1a" stroke-width="0.9" />
<line x1="68.83" y1="402.23" x2="72.42" y2="402.23" stroke="#1a1a1a" stroke-width="0.9" />
<line x1="68.83" y1="407.38" x2="72.42" y2="407.38" stroke="#1a1a1a" stroke-width="0.9" />
<rect x="79.50" y="414.11" width="8.75" height="11.29" fill="#2c4b87" />
<line x1="83.88" y1="412.93" x2="83.88" y2="415.30" stroke="#1a1a1a" stroke-width="0.9" />
<line x1="82.08" y1="412.93" x2="85.67" y2="412.93" stroke="#1a1a1a" stroke-width="0.9" />
<line x1="82.08" y1="415.30" x2="85.67" y2="415.30" stroke="#1a1a1a" stroke-width="0.9" />
<rect x="92.75" y="361.64" width="8.75" height="63.76" fill="#a60028" />
<line x1="97.12" y1="356.69" x2="97.12" y2="366.59" stroke="#1a1a1a" stroke-width="0.9" />
<line x1="95.33" y1="356.69" x2="98.92" y2="356.69" stroke="#1a1a1a" stroke-width="0.9" />
<line x1="95.33" y1="366.59" x2="98.92" y2="366.59" stroke="#1a1a1a" stroke-width="0.9" />
<rect x="106.00" y="388.18" width="8.75" height="37.22" fill="#a60028" />
<line x1="110.38" y1="385.60" x2="110.38" y2="390.75" stroke="#1a1a1a" stroke-width="0.9" />
<line x1="108.58" y1="385.60" x2="112.17" y2="385.60" stroke="#1a1a1a" stroke-width="0.9" />
<line x1="108.58" y1="390.75" x2="112.17" y2="390.75" stroke="#1a1a1a" stroke-width="0.9" />
<rect x="119.25" y="391.94" width="8.75" height="33.46" fill="#a60028" />
<line x1="123.62" y1="389.36" x2="123.62" y2="394.51" stroke="#1a1a1a" stroke-width="0.9" />
<line x1="121.83" y1="389.36" x2="125.42" y2="389.36" stroke="#1a1a1a" stroke-width="0.9" />
<line x1="121.83" y1="394.51" x2="125.42" y2="394.51" stroke="#1a1a1a" stroke-width="0.9" />
<line x1="48.30" y1="343.80" x2="48.30" y2="425.90" stroke="#1a1a1a" stroke-width="1.2" />
<line x1="47.80" y1="425.40" x2="135.00" y2="425.40" stroke="#1a1a1a" stroke-width="1.1" />
<line x1="45.30" y1="425.40" x2="48.30" y2="425.40" stroke="#1a1a1a" stroke-width="1" />
<text transform="translate(42.00,427.90)" text-anchor="end" fill="#1a1a1a" style="font-size:8.2px;" >0</text>
<line x1="45.30" y1="405.60" x2="48.30" y2="405.60" stroke="#1a1a1a" stroke-width="1" />
<text transform="translate(42.00,408.10)" text-anchor="end" fill="#1a1a1a" style="font-size:8.2px;" >1</text>
<line x1="45.30" y1="385.80" x2="48.30" y2="385.80" stroke="#1a1a1a" stroke-width="1" />
<text transform="translate(42.00,388.30)" text-anchor="end" fill="#1a1a1a" style="font-size:8.2px;" >2</text>
<line x1="45.30" y1="366.00" x2="48.30" y2="366.00" stroke="#1a1a1a" stroke-width="1" />
<text transform="translate(42.00,368.50)" text-anchor="end" fill="#1a1a1a" style="font-size:8.2px;" >3</text>
<line x1="45.30" y1="346.20" x2="48.30" y2="346.20" stroke="#1a1a1a" stroke-width="1" />
<text transform="translate(42.00,348.70)" text-anchor="end" fill="#1a1a1a" style="font-size:8.2px;" >4</text>
<text transform="translate(60.27,428.80) rotate(-90)" text-anchor="end" fill="#1a1a1a" style="font-size:8.2px;" >Veh</text>
<text transform="translate(70.03,436.00)" text-anchor="middle" fill="#1a1a1a" style="font-size:8.2px;" >11</text>
<text transform="translate(84.08,436.00)" text-anchor="middle" fill="#1a1a1a" style="font-size:8.2px;" >6</text>
<line x1="66.03" y1="439.50" x2="88.47" y2="439.50" stroke="#222" stroke-width="1.15" />
<text transform="translate(77.25,449.90)" text-anchor="middle" fill="#1a1a1a" style="font-size:8.2px;" >MYCMI</text>
<text transform="translate(100.03,428.80) rotate(-90)" text-anchor="end" fill="#1a1a1a" style="font-size:8.2px;" >Veh</text>
<text transform="translate(109.78,436.00)" text-anchor="middle" fill="#1a1a1a" style="font-size:8.2px;" >11</text>
<text transform="translate(123.83,436.00)" text-anchor="middle" fill="#1a1a1a" style="font-size:8.2px;" >6</text>
<line x1="105.78" y1="439.50" x2="128.22" y2="439.50" stroke="#222" stroke-width="1.15" />
<text transform="translate(117.00,449.90)" text-anchor="middle" fill="#1a1a1a" style="font-size:8.2px;" >MYCMI</text>
<text transform="translate(62.50,382.75)" text-anchor="middle" fill="#1a1a1a" style="font-size:7.2px;" >n.s.</text>
<line x1="55.00" y1="385.50" x2="70.80" y2="385.50" stroke="#222" stroke-width="1.25" />
<text transform="translate(69.30,394.90)" text-anchor="middle" fill="#1a1a1a" style="font-size:9.0px;" >*</text>
<line x1="55.00" y1="395.50" x2="83.80" y2="395.50" stroke="#222" stroke-width="1.25" />
<text transform="translate(102.50,343.30)" text-anchor="middle" fill="#1a1a1a" style="font-size:9.0px;" >****</text>
<line x1="95.00" y1="343.50" x2="110.00" y2="343.50" stroke="#222" stroke-width="1.25" />
<text transform="translate(109.30,352.20)" text-anchor="middle" fill="#1a1a1a" style="font-size:9.0px;" >****</text>
<line x1="95.00" y1="352.50" x2="123.80" y2="352.50" stroke="#222" stroke-width="1.25" />
<text transform="translate(202.00,322.30) scale(0.94,1)" text-anchor="middle" fill="#1a1a1a" style="font-size:10.4px;font-style:italic;" >Eomes</text>
<rect x="164.20" y="402.52" width="8.75" height="22.88" fill="#2c4b87" />
<line x1="168.57" y1="401.47" x2="168.57" y2="403.57" stroke="#1a1a1a" stroke-width="0.9" />
<line x1="166.77" y1="401.47" x2="170.38" y2="401.47" stroke="#1a1a1a" stroke-width="0.9" />
<line x1="166.77" y1="403.57" x2="170.38" y2="403.57" stroke="#1a1a1a" stroke-width="0.9" />
<rect x="177.45" y="380.16" width="8.75" height="45.24" fill="#2c4b87" />
<line x1="181.82" y1="378.06" x2="181.82" y2="382.27" stroke="#1a1a1a" stroke-width="0.9" />
<line x1="180.02" y1="378.06" x2="183.62" y2="378.06" stroke="#1a1a1a" stroke-width="0.9" />
<line x1="180.02" y1="382.27" x2="183.62" y2="382.27" stroke="#1a1a1a" stroke-width="0.9" />
<rect x="190.70" y="398.31" width="8.75" height="27.09" fill="#2c4b87" />
<line x1="195.07" y1="396.47" x2="195.07" y2="400.15" stroke="#1a1a1a" stroke-width="0.9" />
<line x1="193.27" y1="396.47" x2="196.88" y2="396.47" stroke="#1a1a1a" stroke-width="0.9" />
<line x1="193.27" y1="400.15" x2="196.88" y2="400.15" stroke="#1a1a1a" stroke-width="0.9" />
<rect x="203.95" y="364.38" width="8.75" height="61.02" fill="#a60028" />
<line x1="208.32" y1="358.07" x2="208.32" y2="370.70" stroke="#1a1a1a" stroke-width="0.9" />
<line x1="206.52" y1="358.07" x2="210.12" y2="358.07" stroke="#1a1a1a" stroke-width="0.9" />
<line x1="206.52" y1="370.70" x2="210.12" y2="370.70" stroke="#1a1a1a" stroke-width="0.9" />
<rect x="217.20" y="369.38" width="8.75" height="56.02" fill="#a60028" />
<line x1="221.57" y1="366.22" x2="221.57" y2="372.54" stroke="#1a1a1a" stroke-width="0.9" />
<line x1="219.77" y1="366.22" x2="223.38" y2="366.22" stroke="#1a1a1a" stroke-width="0.9" />
<line x1="219.77" y1="372.54" x2="223.38" y2="372.54" stroke="#1a1a1a" stroke-width="0.9" />
<rect x="230.45" y="385.16" width="8.75" height="40.24" fill="#a60028" />
<line x1="234.82" y1="381.48" x2="234.82" y2="388.84" stroke="#1a1a1a" stroke-width="0.9" />
<line x1="233.02" y1="381.48" x2="236.62" y2="381.48" stroke="#1a1a1a" stroke-width="0.9" />
<line x1="233.02" y1="388.84" x2="236.62" y2="388.84" stroke="#1a1a1a" stroke-width="0.9" />
<line x1="159.50" y1="343.80" x2="159.50" y2="425.90" stroke="#1a1a1a" stroke-width="1.2" />
<line x1="159.00" y1="425.40" x2="243.30" y2="425.40" stroke="#1a1a1a" stroke-width="1.1" />
<line x1="156.50" y1="425.40" x2="159.50" y2="425.40" stroke="#1a1a1a" stroke-width="1" />
<text transform="translate(153.80,427.90)" text-anchor="end" fill="#1a1a1a" style="font-size:8.2px;" >0</text>
<line x1="156.50" y1="399.10" x2="159.50" y2="399.10" stroke="#1a1a1a" stroke-width="1" />
<text transform="translate(153.80,401.60)" text-anchor="end" fill="#1a1a1a" style="font-size:8.2px;" >1</text>
<line x1="156.50" y1="372.80" x2="159.50" y2="372.80" stroke="#1a1a1a" stroke-width="1" />
<text transform="translate(153.80,375.30)" text-anchor="end" fill="#1a1a1a" style="font-size:8.2px;" >2</text>
<line x1="156.50" y1="346.50" x2="159.50" y2="346.50" stroke="#1a1a1a" stroke-width="1" />
<text transform="translate(153.80,349.00)" text-anchor="end" fill="#1a1a1a" style="font-size:8.2px;" >3</text>
<text transform="translate(171.47,428.80) rotate(-90)" text-anchor="end" fill="#1a1a1a" style="font-size:8.2px;" >Veh</text>
<text transform="translate(181.22,436.00)" text-anchor="middle" fill="#1a1a1a" style="font-size:8.2px;" >11</text>
<text transform="translate(195.27,436.00)" text-anchor="middle" fill="#1a1a1a" style="font-size:8.2px;" >6</text>
<line x1="177.22" y1="439.50" x2="199.67" y2="439.50" stroke="#222" stroke-width="1.15" />
<text transform="translate(188.45,449.90)" text-anchor="middle" fill="#1a1a1a" style="font-size:8.2px;" >MYCMI</text>
<text transform="translate(211.22,428.80) rotate(-90)" text-anchor="end" fill="#1a1a1a" style="font-size:8.2px;" >Veh</text>
<text transform="translate(220.97,436.00)" text-anchor="middle" fill="#1a1a1a" style="font-size:8.2px;" >11</text>
<text transform="translate(235.02,436.00)" text-anchor="middle" fill="#1a1a1a" style="font-size:8.2px;" >6</text>
<line x1="216.97" y1="439.50" x2="239.42" y2="439.50" stroke="#222" stroke-width="1.15" />
<text transform="translate(228.20,449.90)" text-anchor="middle" fill="#1a1a1a" style="font-size:8.2px;" >MYCMI</text>
<text transform="translate(173.80,362.80)" text-anchor="middle" fill="#1a1a1a" style="font-size:9.0px;" >****</text>
<line x1="166.30" y1="362.50" x2="181.30" y2="362.50" stroke="#222" stroke-width="1.25" />
<text transform="translate(180.50,370.00)" text-anchor="middle" fill="#1a1a1a" style="font-size:7.2px;" >n.s.</text>
<line x1="166.30" y1="372.50" x2="194.50" y2="372.50" stroke="#222" stroke-width="1.25" />
<text transform="translate(213.80,341.65)" text-anchor="middle" fill="#1a1a1a" style="font-size:7.2px;" >n.s.</text>
<line x1="206.30" y1="343.50" x2="221.30" y2="343.50" stroke="#222" stroke-width="1.25" />
<text transform="translate(220.50,353.10)" text-anchor="middle" fill="#1a1a1a" style="font-size:9.0px;" >**</text>
<line x1="206.30" y1="353.50" x2="234.50" y2="353.50" stroke="#222" stroke-width="1.25" />
<text transform="translate(313.40,322.30) scale(0.94,1)" text-anchor="middle" fill="#1a1a1a" style="font-size:10.4px;font-style:italic;" >Gzmb</text>
<rect x="275.00" y="416.00" width="8.75" height="9.40" fill="#2c4b87" />
<line x1="279.38" y1="415.60" x2="279.38" y2="416.39" stroke="#1a1a1a" stroke-width="0.9" />
<line x1="277.57" y1="415.60" x2="281.18" y2="415.60" stroke="#1a1a1a" stroke-width="0.9" />
<line x1="277.57" y1="416.39" x2="281.18" y2="416.39" stroke="#1a1a1a" stroke-width="0.9" />
<rect x="288.30" y="424.21" width="8.75" height="1.19" fill="#2c4b87" />
<line x1="292.68" y1="423.91" x2="292.68" y2="424.51" stroke="#1a1a1a" stroke-width="0.9" />
<line x1="290.88" y1="423.91" x2="294.48" y2="423.91" stroke="#1a1a1a" stroke-width="0.9" />
<line x1="290.88" y1="424.51" x2="294.48" y2="424.51" stroke="#1a1a1a" stroke-width="0.9" />
<rect x="301.60" y="425.00" width="8.75" height="0.40" fill="#2c4b87" />
<line x1="305.98" y1="424.81" x2="305.98" y2="425.20" stroke="#1a1a1a" stroke-width="0.9" />
<line x1="304.18" y1="424.81" x2="307.78" y2="424.81" stroke="#1a1a1a" stroke-width="0.9" />
<line x1="304.18" y1="425.20" x2="307.78" y2="425.20" stroke="#1a1a1a" stroke-width="0.9" />
<rect x="314.90" y="355.11" width="8.75" height="70.29" fill="#a60028" />
<line x1="319.27" y1="351.94" x2="319.27" y2="358.28" stroke="#1a1a1a" stroke-width="0.9" />
<line x1="317.47" y1="351.94" x2="321.07" y2="351.94" stroke="#1a1a1a" stroke-width="0.9" />
<line x1="317.47" y1="358.28" x2="321.07" y2="358.28" stroke="#1a1a1a" stroke-width="0.9" />
<rect x="328.20" y="410.35" width="8.75" height="15.05" fill="#a60028" />
<line x1="332.57" y1="409.86" x2="332.57" y2="410.85" stroke="#1a1a1a" stroke-width="0.9" />
<line x1="330.77" y1="409.86" x2="334.38" y2="409.86" stroke="#1a1a1a" stroke-width="0.9" />
<line x1="330.77" y1="410.85" x2="334.38" y2="410.85" stroke="#1a1a1a" stroke-width="0.9" />
<rect x="341.50" y="410.05" width="8.75" height="15.35" fill="#a60028" />
<line x1="345.88" y1="409.26" x2="345.88" y2="410.85" stroke="#1a1a1a" stroke-width="0.9" />
<line x1="344.07" y1="409.26" x2="347.68" y2="409.26" stroke="#1a1a1a" stroke-width="0.9" />
<line x1="344.07" y1="410.85" x2="347.68" y2="410.85" stroke="#1a1a1a" stroke-width="0.9" />
<line x1="270.50" y1="343.80" x2="270.50" y2="425.90" stroke="#1a1a1a" stroke-width="1.2" />
<line x1="270.00" y1="425.40" x2="355.00" y2="425.40" stroke="#1a1a1a" stroke-width="1.1" />
<line x1="267.50" y1="425.40" x2="270.50" y2="425.40" stroke="#1a1a1a" stroke-width="1" />
<text transform="translate(264.50,427.90)" text-anchor="end" fill="#1a1a1a" style="font-size:8.2px;" >0</text>
<line x1="267.50" y1="405.60" x2="270.50" y2="405.60" stroke="#1a1a1a" stroke-width="1" />
<text transform="translate(264.50,408.10)" text-anchor="end" fill="#1a1a1a" style="font-size:8.2px;" >2</text>
<line x1="267.50" y1="385.80" x2="270.50" y2="385.80" stroke="#1a1a1a" stroke-width="1" />
<text transform="translate(264.50,388.30)" text-anchor="end" fill="#1a1a1a" style="font-size:8.2px;" >4</text>
<line x1="267.50" y1="366.00" x2="270.50" y2="366.00" stroke="#1a1a1a" stroke-width="1" />
<text transform="translate(264.50,368.50)" text-anchor="end" fill="#1a1a1a" style="font-size:8.2px;" >6</text>
<line x1="267.50" y1="346.20" x2="270.50" y2="346.20" stroke="#1a1a1a" stroke-width="1" />
<text transform="translate(264.50,348.70)" text-anchor="end" fill="#1a1a1a" style="font-size:8.2px;" >8</text>
<text transform="translate(282.27,428.80) rotate(-90)" text-anchor="end" fill="#1a1a1a" style="font-size:8.2px;" >Veh</text>
<text transform="translate(292.07,436.00)" text-anchor="middle" fill="#1a1a1a" style="font-size:8.2px;" >11</text>
<text transform="translate(306.18,436.00)" text-anchor="middle" fill="#1a1a1a" style="font-size:8.2px;" >6</text>
<line x1="288.07" y1="439.50" x2="310.58" y2="439.50" stroke="#222" stroke-width="1.15" />
<text transform="translate(299.33,449.90)" text-anchor="middle" fill="#1a1a1a" style="font-size:8.2px;" >MYCMI</text>
<text transform="translate(322.17,428.80) rotate(-90)" text-anchor="end" fill="#1a1a1a" style="font-size:8.2px;" >Veh</text>
<text transform="translate(331.97,436.00)" text-anchor="middle" fill="#1a1a1a" style="font-size:8.2px;" >11</text>
<text transform="translate(346.07,436.00)" text-anchor="middle" fill="#1a1a1a" style="font-size:8.2px;" >6</text>
<line x1="327.97" y1="439.50" x2="350.48" y2="439.50" stroke="#222" stroke-width="1.15" />
<text transform="translate(339.23,449.90)" text-anchor="middle" fill="#1a1a1a" style="font-size:8.2px;" >MYCMI</text>
<text transform="translate(285.00,393.40)" text-anchor="middle" fill="#1a1a1a" style="font-size:9.0px;" >****</text>
<line x1="277.00" y1="395.50" x2="292.50" y2="395.50" stroke="#222" stroke-width="1.25" />
<text transform="translate(291.80,405.60)" text-anchor="middle" fill="#1a1a1a" style="font-size:9.0px;" >****</text>
<line x1="277.00" y1="405.50" x2="305.80" y2="405.50" stroke="#222" stroke-width="1.25" />
<text transform="translate(325.00,333.90)" text-anchor="middle" fill="#1a1a1a" style="font-size:9.0px;" >****</text>
<line x1="317.50" y1="335.50" x2="332.50" y2="335.50" stroke="#222" stroke-width="1.25" />
<text transform="translate(331.80,346.20)" text-anchor="middle" fill="#1a1a1a" style="font-size:9.0px;" >****</text>
<line x1="317.50" y1="346.50" x2="345.80" y2="346.50" stroke="#222" stroke-width="1.25" />
<text transform="translate(428.80,322.30) scale(0.94,1)" text-anchor="middle" fill="#1a1a1a" style="font-size:10.4px;font-style:italic;" >Ifng</text>
<rect x="390.50" y="420.14" width="8.75" height="5.26" fill="#2c4b87" />
<line x1="394.88" y1="419.72" x2="394.88" y2="420.56" stroke="#1a1a1a" stroke-width="0.9" />
<line x1="393.07" y1="419.72" x2="396.68" y2="419.72" stroke="#1a1a1a" stroke-width="0.9" />
<line x1="393.07" y1="420.56" x2="396.68" y2="420.56" stroke="#1a1a1a" stroke-width="0.9" />
<rect x="403.80" y="424.40" width="8.75" height="1.00" fill="#2c4b87" />
<line x1="408.18" y1="424.14" x2="408.18" y2="424.66" stroke="#1a1a1a" stroke-width="0.9" />
<line x1="406.38" y1="424.14" x2="409.98" y2="424.14" stroke="#1a1a1a" stroke-width="0.9" />
<line x1="406.38" y1="424.66" x2="409.98" y2="424.66" stroke="#1a1a1a" stroke-width="0.9" />
<rect x="417.10" y="425.14" width="8.75" height="0.26" fill="#2c4b87" />
<line x1="421.48" y1="424.98" x2="421.48" y2="425.29" stroke="#1a1a1a" stroke-width="0.9" />
<line x1="419.68" y1="424.98" x2="423.28" y2="424.98" stroke="#1a1a1a" stroke-width="0.9" />
<line x1="419.68" y1="425.29" x2="423.28" y2="425.29" stroke="#1a1a1a" stroke-width="0.9" />
<rect x="430.40" y="373.85" width="8.75" height="51.55" fill="#a60028" />
<line x1="434.77" y1="372.27" x2="434.77" y2="375.43" stroke="#1a1a1a" stroke-width="0.9" />
<line x1="432.97" y1="372.27" x2="436.57" y2="372.27" stroke="#1a1a1a" stroke-width="0.9" />
<line x1="432.97" y1="375.43" x2="436.57" y2="375.43" stroke="#1a1a1a" stroke-width="0.9" />
<rect x="443.70" y="410.67" width="8.75" height="14.73" fill="#a60028" />
<line x1="448.07" y1="409.62" x2="448.07" y2="411.72" stroke="#1a1a1a" stroke-width="0.9" />
<line x1="446.27" y1="409.62" x2="449.88" y2="409.62" stroke="#1a1a1a" stroke-width="0.9" />
<line x1="446.27" y1="411.72" x2="449.88" y2="411.72" stroke="#1a1a1a" stroke-width="0.9" />
<rect x="457.00" y="413.04" width="8.75" height="12.36" fill="#a60028" />
<line x1="461.38" y1="412.41" x2="461.38" y2="413.67" stroke="#1a1a1a" stroke-width="0.9" />
<line x1="459.57" y1="412.41" x2="463.18" y2="412.41" stroke="#1a1a1a" stroke-width="0.9" />
<line x1="459.57" y1="413.67" x2="463.18" y2="413.67" stroke="#1a1a1a" stroke-width="0.9" />
<line x1="385.80" y1="343.80" x2="385.80" y2="425.90" stroke="#1a1a1a" stroke-width="1.2" />
<line x1="385.30" y1="425.40" x2="470.00" y2="425.40" stroke="#1a1a1a" stroke-width="1.1" />
<line x1="382.80" y1="425.40" x2="385.80" y2="425.40" stroke="#1a1a1a" stroke-width="1" />
<text transform="translate(380.00,427.90)" text-anchor="end" fill="#1a1a1a" style="font-size:8.2px;" >0</text>
<line x1="382.80" y1="399.10" x2="385.80" y2="399.10" stroke="#1a1a1a" stroke-width="1" />
<text transform="translate(380.00,401.60)" text-anchor="end" fill="#1a1a1a" style="font-size:8.2px;" >5</text>
<line x1="382.80" y1="372.80" x2="385.80" y2="372.80" stroke="#1a1a1a" stroke-width="1" />
<text transform="translate(380.00,375.30)" text-anchor="end" fill="#1a1a1a" style="font-size:8.2px;" >10</text>
<line x1="382.80" y1="346.50" x2="385.80" y2="346.50" stroke="#1a1a1a" stroke-width="1" />
<text transform="translate(380.00,349.00)" text-anchor="end" fill="#1a1a1a" style="font-size:8.2px;" >15</text>
<text transform="translate(397.77,428.80) rotate(-90)" text-anchor="end" fill="#1a1a1a" style="font-size:8.2px;" >Veh</text>
<text transform="translate(407.57,436.00)" text-anchor="middle" fill="#1a1a1a" style="font-size:8.2px;" >11</text>
<text transform="translate(421.68,436.00)" text-anchor="middle" fill="#1a1a1a" style="font-size:8.2px;" >6</text>
<line x1="403.57" y1="439.50" x2="426.08" y2="439.50" stroke="#222" stroke-width="1.15" />
<text transform="translate(414.83,449.90)" text-anchor="middle" fill="#1a1a1a" style="font-size:8.2px;" >MYCMI</text>
<text transform="translate(437.67,428.80) rotate(-90)" text-anchor="end" fill="#1a1a1a" style="font-size:8.2px;" >Veh</text>
<text transform="translate(447.47,436.00)" text-anchor="middle" fill="#1a1a1a" style="font-size:8.2px;" >11</text>
<text transform="translate(461.57,436.00)" text-anchor="middle" fill="#1a1a1a" style="font-size:8.2px;" >6</text>
<line x1="443.47" y1="439.50" x2="465.98" y2="439.50" stroke="#222" stroke-width="1.15" />
<text transform="translate(454.73,449.90)" text-anchor="middle" fill="#1a1a1a" style="font-size:8.2px;" >MYCMI</text>
<text transform="translate(400.00,394.40)" text-anchor="middle" fill="#1a1a1a" style="font-size:9.0px;" >****</text>
<line x1="392.50" y1="396.50" x2="408.00" y2="396.50" stroke="#222" stroke-width="1.25" />
<text transform="translate(406.80,406.10)" text-anchor="middle" fill="#1a1a1a" style="font-size:9.0px;" >****</text>
<line x1="392.50" y1="405.50" x2="421.30" y2="405.50" stroke="#222" stroke-width="1.25" />
<text transform="translate(440.50,353.10)" text-anchor="middle" fill="#1a1a1a" style="font-size:9.0px;" >****</text>
<line x1="432.50" y1="355.50" x2="448.00" y2="355.50" stroke="#222" stroke-width="1.25" />
<text transform="translate(447.00,365.60)" text-anchor="middle" fill="#1a1a1a" style="font-size:9.0px;" >****</text>
<line x1="432.50" y1="365.50" x2="461.30" y2="365.50" stroke="#222" stroke-width="1.25" />
<path d="M0.5,0.5 H519.5 V458.5 H0.5 Z" fill="none" stroke="#000" stroke-width="1.2"/>
<rect x="0" y="457.75" width="520" height="1.25" fill="#000"/>
</svg>
</body></html>
